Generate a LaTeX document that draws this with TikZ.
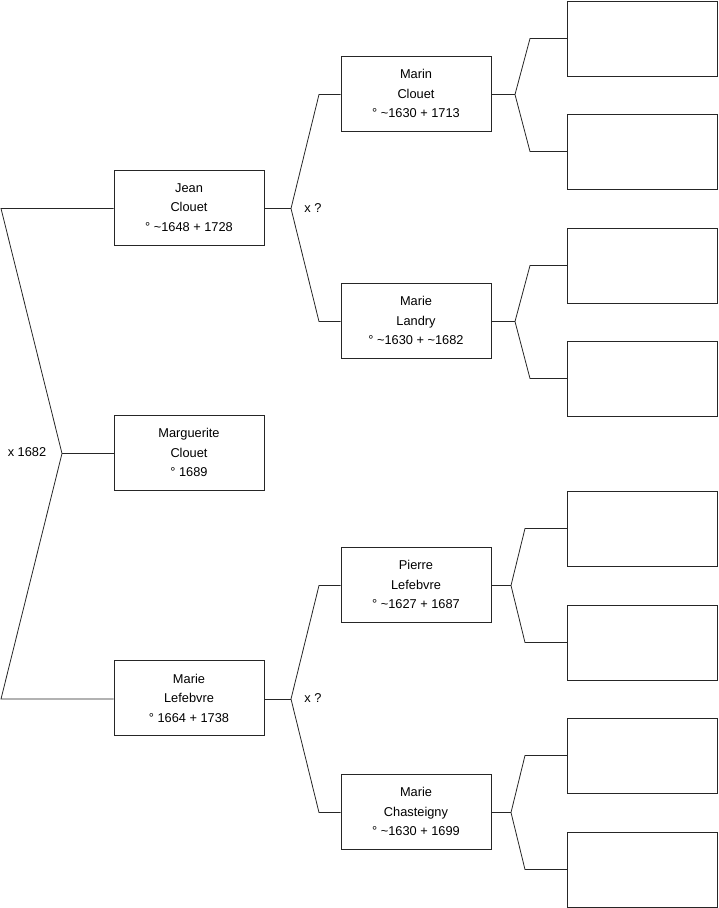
\documentclass[tikz,border=0pt]{standalone}
\usepackage{fontspec}
\setmainfont{Liberation Sans}
\usetikzlibrary{positioning, calc}

\begin{document}
\begin{tikzpicture}[x=1pt, y=-1pt,
    person/.style={draw=black!85, line width=0.8pt, minimum width=150pt, minimum height=75pt,
                   inner sep=0pt, align=center, font=\fontsize{12.8}{19.5}\selectfont},
    link/.style={draw=black!85, line width=0.8pt},
    union/.style={font=\fontsize{12.8}{14}\selectfont, inner sep=0pt}]
  \useasboundingbox (0,0) rectangle (719,908);

  % generation 1 and 2
  \node[person] (marguerite) at (189,452.5) {Marguerite\\Clouet\\° 1689};
  \node[person] (jean)       at (189,207.5) {Jean\\Clouet\\° \textasciitilde1648 + 1728};
  \node[person] (lefebvre)   at (189,698)   {Marie\\Lefebvre\\° 1664 + 1738};

  % generation 3
  \node[person] (marin)  at (416,93.5)  {Marin\\Clouet\\° \textasciitilde1630 + 1713};
  \node[person] (landry) at (416,320.5) {Marie\\Landry\\° \textasciitilde1630 + \textasciitilde1682};
  \node[person] (pierre) at (416,584.5) {Pierre\\Lefebvre\\° \textasciitilde1627 + 1687};
  \node[person] (chast)  at (416,811.5) {Marie\\Chasteigny\\° \textasciitilde1630 + 1699};

  % generation 4, empty boxes
  \foreach \i/\y in {1/38.5, 2/151.5, 3/265.5, 4/378.5, 5/528.5, 6/642.5, 7/755.5, 8/869.5}{
    \node[person] (r\i) at (642.5,\y) {};
  }

  % parents of Marguerite
  \coordinate (mtop)  at (1,208.5);
  \coordinate (mfork) at (62,453.5);
  \coordinate (mbot)  at (1,699);
  \draw[link] (jean.west |- mtop) -- (mtop) -- (mfork) -- (mbot) -- (lefebvre.west |- mbot);
  \draw[link] (mfork) -- (marguerite.west |- mfork);
  \node[union] (m1682) at (27,452) {x 1682};

  % parents of Jean and of Marie
  \foreach \c/\u/\v/\w in {jean/marin/landry/jx, lefebvre/pierre/chast/lx}{
    \coordinate (f\c) at ($(\c.east -| 291,0)+(0,1)$);
    \coordinate (u\c) at ($(\u.west -| 319,0)+(0,1)$);
    \coordinate (v\c) at ($(\v.west -| 319,0)+(0,1)$);
    \draw[link] (\c.east |- f\c) -- (f\c);
    \draw[link] (\u.west |- u\c) -- (u\c) -- (f\c) -- (v\c) -- (\v.west |- v\c);
    \node[union] (\w) at ($(f\c)+(22,-0.5)$) {x ?};
  }

  % generation 3 to 4
  \foreach \p/\fx/\ex/\a/\b in {marin/515/530/1/2, landry/515/530/3/4,
                                pierre/511/525/5/6, chast/511/525/7/8}{
    \coordinate (f\p) at ($(\p.east -| \fx,0)+(0,1)$);
    \coordinate (a\p) at (r\a.west -| \ex,0);
    \coordinate (b\p) at (r\b.west -| \ex,0);
    \draw[link] (\p.east |- f\p) -- (f\p);
    \draw[link] (r\a.west) -- (a\p) -- (f\p) -- (b\p) -- (r\b.west);
  }
\end{tikzpicture}
\end{document}
